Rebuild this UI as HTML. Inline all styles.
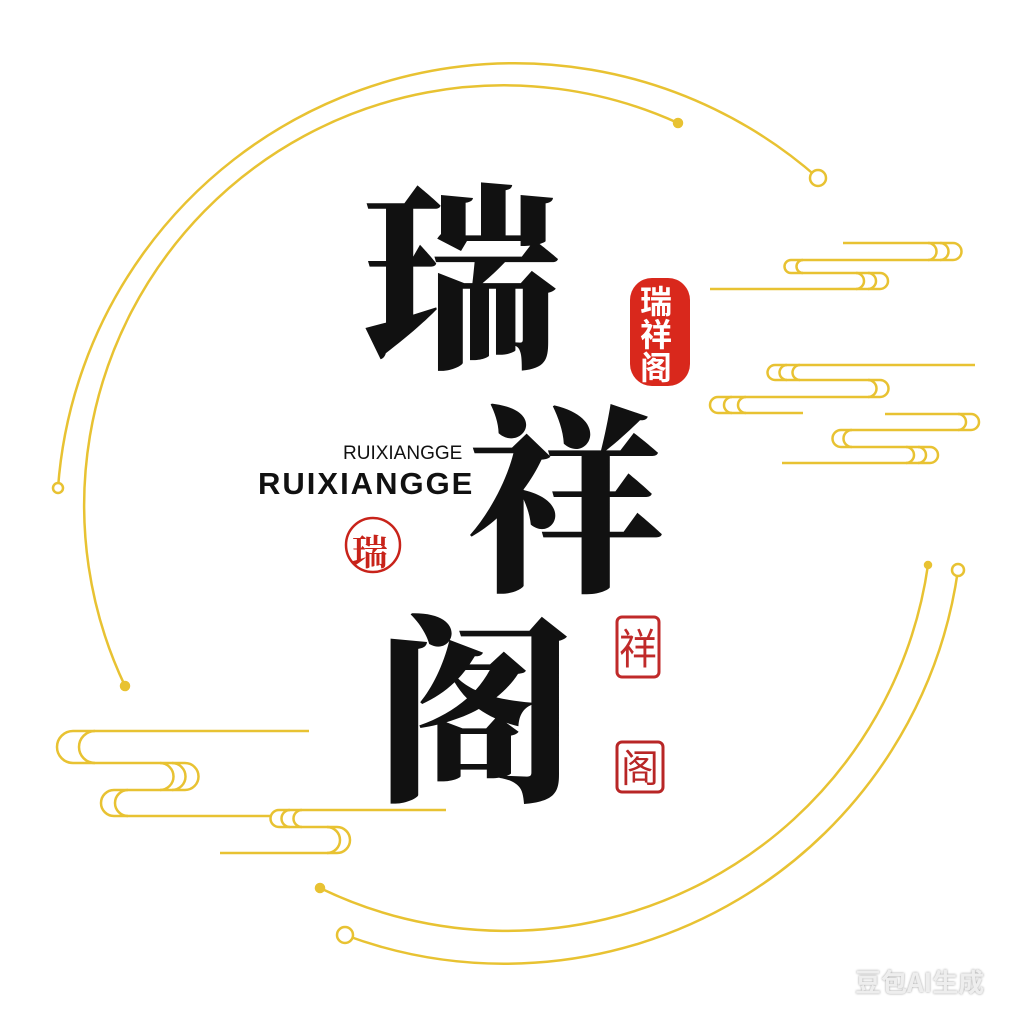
<!DOCTYPE html>
<html><head><meta charset="utf-8"><style>
html,body{margin:0;padding:0;background:#fff;}
body{width:1024px;height:1024px;position:relative;overflow:hidden;font-family:"Liberation Sans","Noto Sans CJK SC",sans-serif;}
.big{position:absolute;font-family:"Noto Serif CJK SC","WenQuanYi Zen Hei",serif;font-weight:900;color:#111;font-size:200px;line-height:1;}
.t{position:absolute;color:#111;white-space:nowrap;}
</style></head><body>
<svg width="1024" height="1024" style="position:absolute;left:0;top:0" fill="none" stroke="#e8c232" stroke-width="2.5">
<path d="M818 178 A458 458 0 0 0 58 488"/>
<path d="M678 123 A420 420 0 0 0 125 686"/>
<path d="M958 570 A458 458 0 0 1 345 935"/>
<path d="M928 565 A426 426 0 0 1 320 888"/>
<circle cx="818" cy="178" r="8" fill="#fff"/>
<circle cx="58" cy="488" r="5" fill="#fff"/>
<circle cx="958" cy="570" r="6" fill="#fff"/>
<circle cx="345" cy="935" r="8" fill="#fff"/>
<circle cx="678" cy="123" r="4" fill="#e8c232"/>
<circle cx="125" cy="686" r="4" fill="#e8c232"/>
<circle cx="928" cy="565" r="3" fill="#e8c232"/>
<circle cx="320" cy="888" r="4" fill="#e8c232"/>
<path d="M843 243 H953 A8.5 8.5 0 0 1 953 260 H791 A6.5 6.5 0 0 0 791 273 H880 A8 8 0 0 1 880 289 H710"/>
<path d="M940 243 A8.5 8.5 0 0 1 940 260 M928 243 A8.5 8.5 0 0 1 928 260"/>
<path d="M803 260 A6.5 6.5 0 0 0 803 273"/>
<path d="M868 273 A8 8 0 0 1 868 289 M856 273 A8 8 0 0 1 856 289"/>
<path d="M975 365 H775 A7.5 7.5 0 0 0 775 380 H880 A8.5 8.5 0 0 1 880 397 H718 A8 8 0 0 0 718 413 H803"/>
<path d="M787 365 A7.5 7.5 0 0 0 787 380 M800 365 A7.5 7.5 0 0 0 800 380"/>
<path d="M868 380 A8.5 8.5 0 0 1 868 397"/>
<path d="M732 397 A8 8 0 0 0 732 413 M746 397 A8 8 0 0 0 746 413"/>
<path d="M885 414 H971 A8 8 0 0 1 971 430 H841 A8.5 8.5 0 0 0 841 447 H930 A8 8 0 0 1 930 463 H782"/>
<path d="M958 414 A8 8 0 0 1 958 430"/>
<path d="M852 430 A8.5 8.5 0 0 0 852 447"/>
<path d="M918 447 A8 8 0 0 1 918 463 M906 447 A8 8 0 0 1 906 463"/>
<path d="M309 731 H73 A16 16 0 0 0 73 763 H185 A13.5 13.5 0 0 1 185 790 H114 A13 13 0 0 0 114 816 H270"/>
<path d="M95 731 A16 16 0 0 0 95 763"/>
<path d="M172 763 A13.5 13.5 0 0 1 172 790 M160 763 A13.5 13.5 0 0 1 160 790"/>
<path d="M128 790 A13 13 0 0 0 128 816"/>
<path d="M446 810 H279 A8.5 8.5 0 0 0 279 827 H337 A13 13 0 0 1 337 853 H220"/>
<path d="M290 810 A8.5 8.5 0 0 0 290 827 M302 810 A8.5 8.5 0 0 0 302 827"/>
<path d="M327 827 A13 13 0 0 1 327 853"/>
<rect x="630" y="278" width="60" height="108" rx="22" fill="#d9281c" stroke="none"/>
<circle cx="373" cy="545" r="27" stroke="#c8231a" stroke-width="2.5"/>
<rect x="617" y="617" width="42" height="60" rx="5" stroke="#c02a2a" stroke-width="3"/>
<rect x="617" y="742" width="46" height="50" rx="5" stroke="#b82626" stroke-width="3"/>
</svg>
<div class="big" style="left:362px;top:168px;">瑞</div>
<div class="big" style="left:466px;top:390px;">祥</div>
<div class="big" style="left:375px;top:600px;">阁</div>
<div class="t" style="left:343px;top:443px;font-size:19px;">RUIXIANGGE</div>
<div class="t" style="left:258px;top:466px;font-size:31px;font-weight:bold;letter-spacing:2px;">RUIXIANGGE</div>
<div class="t" style="left:640px;top:284px;font-size:32px;line-height:33px;color:#fff;font-family:'Noto Sans CJK SC',sans-serif;font-weight:bold;width:40px;white-space:normal;">瑞<br>祥<br>阁</div>
<div class="t" style="left:352px;top:525px;font-size:36px;color:#c8231a;font-family:'Noto Serif CJK SC',serif;font-weight:bold;">瑞</div>
<div class="t" style="left:619px;top:624px;font-size:42px;line-height:46px;color:#c02a2a;font-family:'Noto Sans CJK SC',sans-serif;transform:scaleX(0.9);transform-origin:left;">祥</div>
<div class="t" style="left:621px;top:745px;font-size:38px;line-height:42px;color:#b82626;font-family:'Noto Sans CJK SC',sans-serif;">阁</div>
<div class="t" style="left:855px;top:963px;font-size:26px;color:#eee;font-family:'Noto Sans CJK SC',sans-serif;font-weight:bold;text-shadow:0 0 2px #999;">豆包AI生成</div>
</body></html>
